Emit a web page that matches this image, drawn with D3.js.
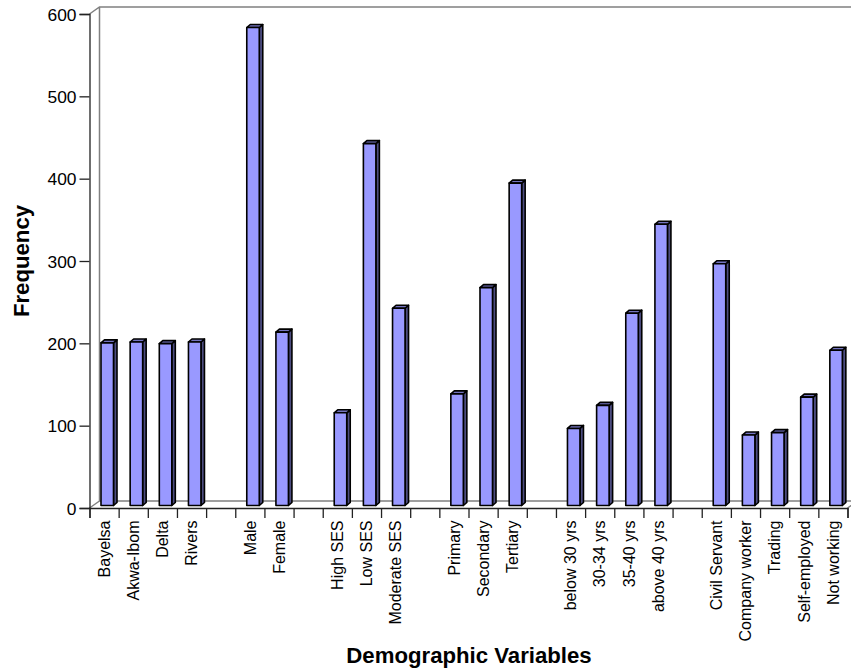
<!DOCTYPE html>
<html lang="en">
<head>
<meta charset="UTF-8">
<title>Demographic Variables</title>
<script src="https://d3js.org/d3.v7.min.js"></script>
<style>
    html, body { margin: 0; padding: 0; background: #fff; }
    svg { display: block; }
    text { font-family: "Liberation Sans", Arial, sans-serif; fill: #000; }
</style>
</head>
<body>
<svg id="chart"></svg>
<script>
    // empty strings are the gaps between the variable groups
    const categories = ["Bayelsa", "Akwa-Ibom", "Delta", "Rivers", "",
        "Male", "Female", "",
        "High SES", "Low SES", "Moderate SES", "",
        "Primary", "Secondary", "Tertiary", "",
        "below 30 yrs", "30-34 yrs", "35-40 yrs", "above 40 yrs", "",
        "Civil Servant", "Company worker", "Trading", "Self-employed", "Not working"];
    const values = [200, 201, 199, 201, null,
        583, 213, null,
        115, 442, 242, null,
        138, 267, 394, null,
        96, 124, 236, 344, null,
        296, 88, 91, 134, 191];
    const yTicks = [0, 100, 200, 300, 400, 500, 600];

    const width = 851;
    const height = 672;
    const margin = {top: 14, right: 3.5, bottom: 164, left: 89.5};
    const wallX = 10, wallY = 7;      // depth of the back wall
    const barDepthX = 3.5, barDepthY = 3; // depth of one bar

    const svg = d3.select("#chart").attr("width", width).attr("height", height);

    const x = d3.scaleLinear()
        .domain([0, categories.length])
        .range([margin.left, width - margin.right]);

    const y = d3.scaleLinear()
        .domain([0, 600])
        .range([height - margin.bottom, margin.top]);

    const band = d3.scaleBand()
        .domain(d3.range(categories.length))
        .range(x.range());

    const x0 = x.range()[0], x1 = x.range()[1];
    const y0 = y.range()[0], y1 = y.range()[1];

    // walls
    svg.append("path")
        .attr("fill", "none")
        .attr("stroke", "#808080")
        .attr("stroke-width", 1.5)
        .attr("d", `M${x0},${y1} L${x0 + wallX},${y1 - wallY} H${x1 + wallX} M${x0 + wallX},${y1 - wallY} V${y0 - wallY}
            H${x1 + wallX} M${x0},${y0} L${x0 + wallX},${y0 - wallY} M${x1},${y0} L${x1 + wallX},${y0 - wallY}`);

    // bars
    const bars = svg.append("g")
        .selectAll("g")
        .data(categories.map((name, i) => ({name, i, value: values[i]})).filter(d => d.value !== null))
        .join("g")
        .attr("stroke", "#000")
        .attr("stroke-width", 1.6)
        .attr("stroke-linejoin", "round");

    const barW = 12.5;
    const barLeft = d => band(d.i) + 11.5;
    const barTop = d => y(d.value) - 0.5;
    const barBottom = y0 - 2.5;

    bars.append("path")
        .attr("fill", "#4d4d80")
        .attr("d", d => `M${barLeft(d) + barW},${barTop(d)} l${barDepthX},${-barDepthY} V${barBottom - barDepthY} l${-barDepthX},${barDepthY} Z`);

    bars.append("path")
        .attr("fill", "#7373bf")
        .attr("d", d => `M${barLeft(d)},${barTop(d)} l${barDepthX},${-barDepthY} h${barW} l${-barDepthX},${barDepthY} Z`);

    bars.append("rect")
        .attr("fill", "#9999ff")
        .attr("x", barLeft)
        .attr("y", barTop)
        .attr("width", barW)
        .attr("height", d => barBottom - barTop(d));

    // axes
    const yAxis = d3.axisLeft(y).tickValues(yTicks).tickSize(10).tickPadding(3);
    const gy = svg.append("g")
        .attr("transform", `translate(${x0},0)`)
        .call(yAxis);
    gy.selectAll("text")
        .attr("font-size", 17.4)
        .attr("font-family", '"Liberation Sans", Arial, sans-serif')
        .attr("dy", "0.36em");

    const xAxis = d3.axisBottom(x).tickValues(d3.range(categories.length + 1)).tickSize(10).tickFormat("");
    svg.append("g")
        .attr("transform", `translate(0,${y0})`)
        .call(xAxis);

    svg.selectAll(".domain, .tick line").attr("stroke", "#222").attr("stroke-width", 1.3);

    // category labels, rotated
    svg.append("g")
        .selectAll("text")
        .data(categories)
        .join("text")
        .attr("transform", (d, i) => `translate(${band(i) + band.bandwidth() / 2 + 5.8},${y0 + 12.5}) rotate(-90)`)
        .attr("text-anchor", "end")
        .attr("font-size", 16)
        .text(d => d);

    // titles
    svg.append("text")
        .attr("x", 469).attr("y", 663)
        .attr("text-anchor", "middle")
        .attr("font-size", 22.2).attr("font-weight", "bold")
        .text("Demographic Variables");

    svg.append("text")
        .attr("transform", "translate(29,261) rotate(-90)")
        .attr("text-anchor", "middle")
        .attr("font-size", 22.2).attr("font-weight", "bold")
        .text("Frequency");
</script>
</body>
</html>
